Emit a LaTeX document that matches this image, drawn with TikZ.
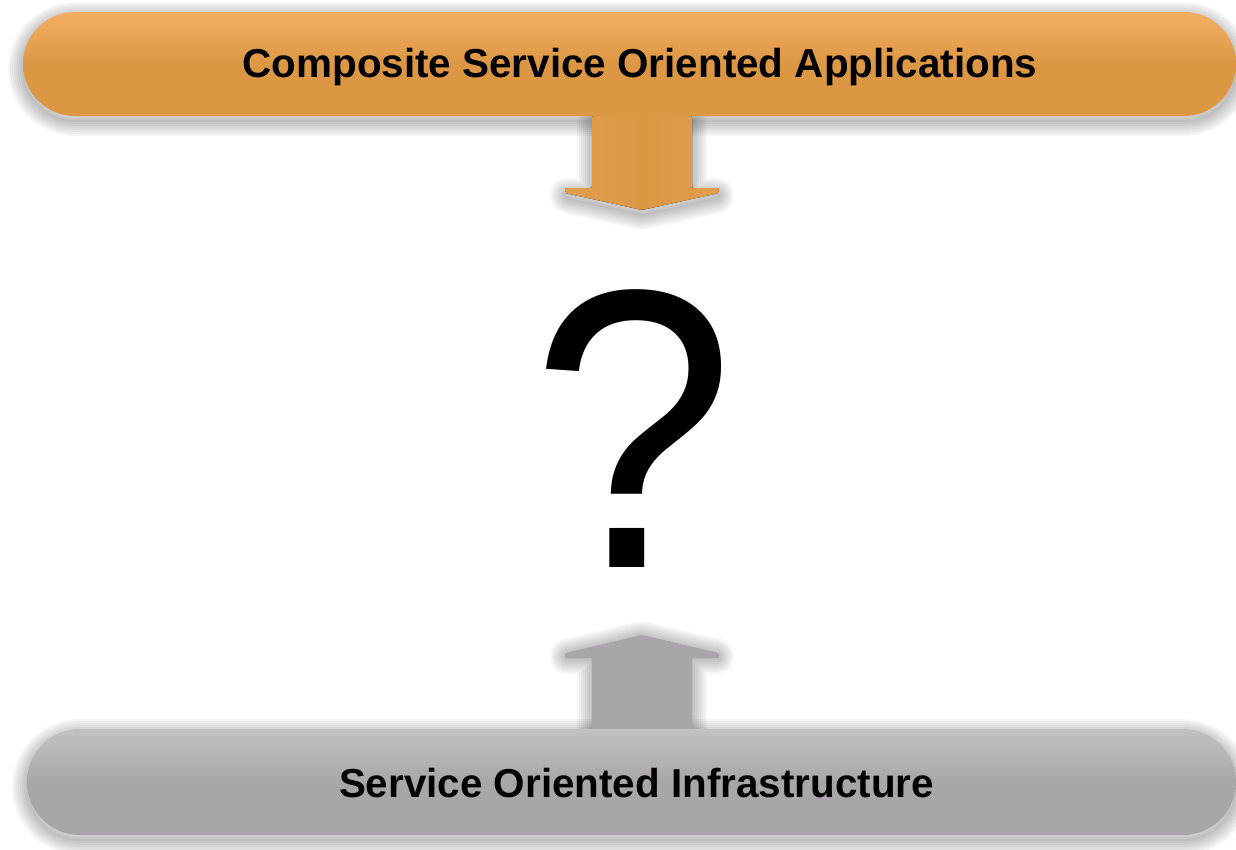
\documentclass[tikz,border=0pt]{standalone}
\usepackage{fontspec}
\setmainfont{Liberation Sans}

\definecolor{appsorange}{HTML}{DC9745}
\definecolor{appslight}{HTML}{F3AF61}
\definecolor{infragray}{HTML}{A8A6A9}
\definecolor{infralight}{HTML}{C3C1C4}

% soft shadow: stacked strokes, shifted down
\newcommand{\blurshadow}[2][5]{%
  \foreach \w in {2,6,...,30}
    \draw[black, opacity=0.035, line width=\w pt, line join=round, yshift=-#1pt] #2;}

\newcommand{\downarrowpath}{[rounded corners=2pt] (592,116) -- (592,188) -- (565,188) -- (565,193)
  -- (642,210) -- (719,193) -- (719,188) -- (692,188) -- (692,116) -- cycle}
\newcommand{\uparrowpath}{[rounded corners=2pt] (592,730) -- (592,658) -- (565,658) -- (565,653)
  -- (642,635) -- (719,653) -- (719,658) -- (692,658) -- (692,730) -- cycle}

\tikzset{
  layerbar/.style={inner sep=0pt, rounded corners=52pt},
  bartext/.style={anchor=base, inner sep=0pt, font=\bfseries\fontsize{40.4}{48}\selectfont},
}

\begin{document}
\begin{tikzpicture}[x=1pt, y=-1pt]
  \useasboundingbox (0,0) rectangle (1236,849);

  % shadows
  \blurshadow{[rounded corners=52pt] (23,12) rectangle (1236,116)}
  \blurshadow{[rounded corners=53pt] (27,729) rectangle (1236,835)}
  \blurshadow{\downarrowpath}
  \blurshadow[1]{\uparrowpath}

  % arrows into the gap
  \fill[left color=appsorange!70!appslight, right color=appsorange!70!appslight,
        middle color=appsorange] \downarrowpath;
  \fill[infragray] \uparrowpath;

  % top layer
  \node[layerbar, minimum width=1213pt, minimum height=104pt,
        top color=appslight, bottom color=appsorange, middle color=appsorange]
        (appsbar) at (629.5,64) {};
  \node[bartext] (appstext) at (640,77) {Composite Service Oriented Applications};

  % bottom layer
  \node[layerbar, rounded corners=53pt, minimum width=1209pt, minimum height=106pt,
        top color=infralight, bottom color=infragray, middle color=infragray]
        (infrabar) at (631.5,782) {};
  \node[bartext] (infratext) at (636.5,797) {Service Oriented Infrastructure};

  % the open question
  \node[anchor=base, inner sep=0pt, xscale=0.92, transform shape,
        font=\fontsize{398}{410}\selectfont] (ask) at (633,567) {?};
\end{tikzpicture}
\end{document}
